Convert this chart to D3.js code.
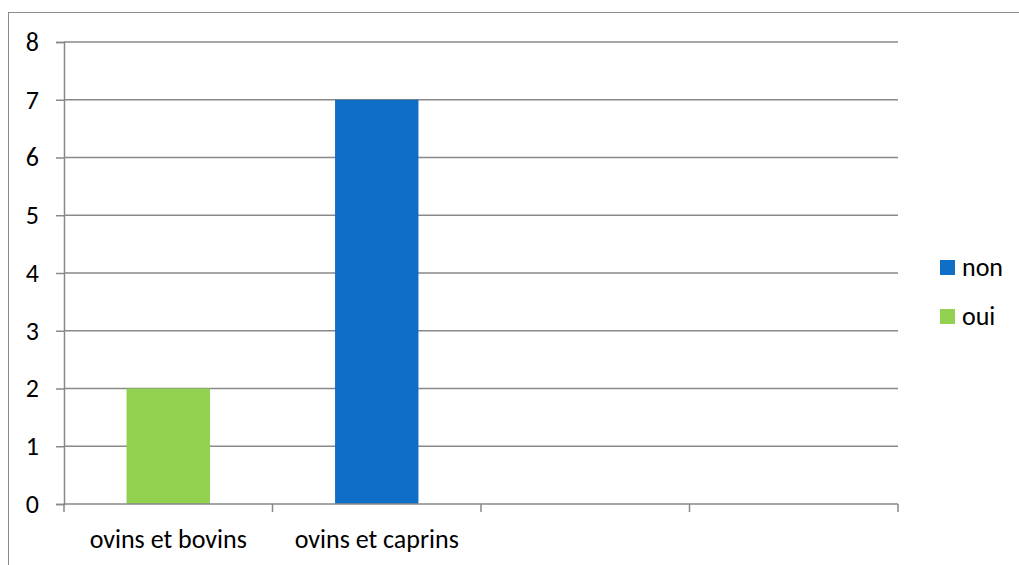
<!DOCTYPE html>
<html><head><meta charset="utf-8">
<script src="https://cdn.jsdelivr.net/npm/d3@7"></script>
<style>body{margin:0;background:#fff}svg{display:block;font-family:Carlito,"Liberation Sans",Arial,sans-serif}</style>
</head><body>
<svg id="c" width="1019" height="565"></svg>
<script>
const categories = ["ovins et bovins", "ovins et caprins", "", ""];
const seriesNames = ["non", "oui"];
const nonValues = [0, 7, 0, 0];
const ouiValues = [2, 0, 0, 0];
const yTicks = [0,1,2,3,4,5,6,7,8];
const colors = {non: "#0F6FC6", oui: "#92D050"};

const svg = d3.select("#c");
const W = 1019, H = 565;
const FS = 26;
// frame
svg.append("rect").attr("x", 8.5).attr("y", 12.5).attr("width", W).attr("height", H)
  .attr("fill", "none").attr("stroke", "#8c8c8c").attr("stroke-width", 1);

const x0 = 64, x1 = 898, yTop = 42, yBot = 504;
const x = d3.scaleBand().domain(d3.range(categories.length)).range([x0, x1]).paddingInner(0).paddingOuter(0);
const y = d3.scaleLinear().domain([0, 8]).range([yBot, yTop]);

// gridlines
svg.append("g").selectAll("line").data(yTicks.filter(t => t > 0)).join("line")
  .attr("x1", x0).attr("x2", x1).attr("y1", d => y(d)).attr("y2", d => y(d))
  .attr("stroke", "#898989").attr("stroke-width", 1.5);

// y axis
const ya = svg.append("g").attr("transform", `translate(${x0},0)`)
  .call(d3.axisLeft(y).tickValues(yTicks).tickSize(8).tickPadding(17).tickFormat(d3.format("d")));
ya.select(".domain").attr("stroke", "#898989").attr("stroke-width", 1.5);
ya.selectAll(".tick line").attr("stroke", "#898989").attr("stroke-width", 1.5);
ya.selectAll("text").attr("font-size", FS).attr("fill", "#000").attr("font-family", "Carlito,'Liberation Sans',Arial,sans-serif");

// bars (stacked)
const data = categories.map((c, i) => ({i, non: nonValues[i], oui: ouiValues[i]}));
const stack = d3.stack().keys(["oui", "non"])(data);
const bw = x.bandwidth() * 0.4;
svg.append("g").selectAll("g").data(stack).join("g").attr("fill", d => colors[d.key])
  .selectAll("rect").data(d => d).join("rect")
  .attr("x", d => x(d.data.i) + (x.bandwidth() - bw) / 2)
  .attr("width", bw)
  .attr("y", d => y(d[1]))
  .attr("height", d => y(d[0]) - y(d[1]));

// x axis
const xa = svg.append("g").attr("transform", `translate(0,${yBot})`);
xa.append("line").attr("x1", x0).attr("x2", x1).attr("stroke", "#898989").attr("stroke-width", 1.5);
const tickPos = d3.range(categories.length + 1).map(i => x0 + i * x.bandwidth());
xa.selectAll("line.t").data(tickPos).join("line").attr("class", "t")
  .attr("x1", d => d).attr("x2", d => d).attr("y1", 0).attr("y2", 8)
  .attr("stroke", "#898989").attr("stroke-width", 1.5);
xa.selectAll("text").data(categories).join("text")
  .attr("x", (d, i) => x(i) + x.bandwidth() / 2).attr("y", 44)
  .attr("text-anchor", "middle").attr("font-size", FS).attr("fill", "#000").text(d => d);

// legend
const lg = svg.append("g").selectAll("g").data(seriesNames).join("g")
  .attr("transform", (d, i) => `translate(940,${260 + i * 49})`);
lg.append("rect").attr("width", 15).attr("height", 15).attr("fill", d => colors[d]);
lg.append("text").attr("x", 22).attr("y", 16).attr("font-size", FS).attr("fill", "#000").text(d => d);
</script>
</body></html>
